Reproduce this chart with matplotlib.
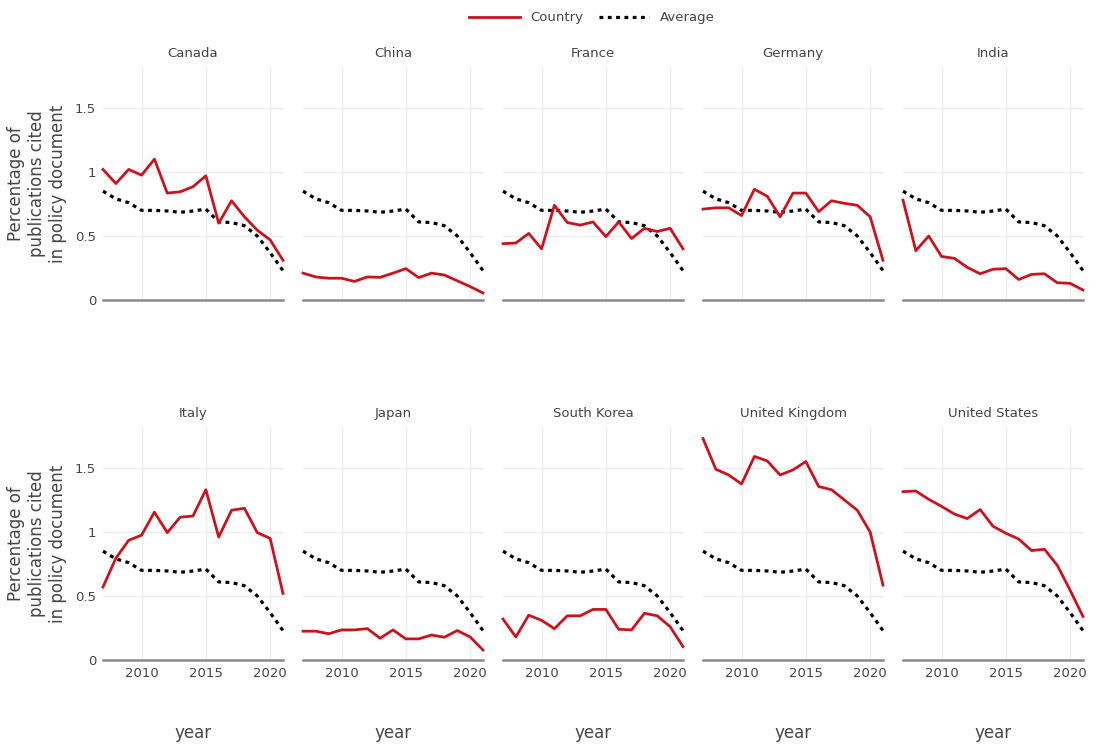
import matplotlib.pyplot as plt
from matplotlib.lines import Line2D
import numpy as np

years = np.arange(2007, 2022)

# share of publications cited in policy documents (%)
average = [0.85, 0.79, 0.76, 0.70, 0.70, 0.695, 0.685, 0.695, 0.71, 0.61, 0.605, 0.58, 0.50, 0.37, 0.23]

canada = [1.02, 0.91, 1.02, 0.975, 1.10, 0.835, 0.845, 0.885, 0.97, 0.60, 0.775, 0.65, 0.545, 0.47, 0.31]
china = [0.21, 0.18, 0.17, 0.17, 0.145, 0.18, 0.177, 0.21, 0.245, 0.175, 0.21, 0.195, 0.15, 0.105, 0.055]
france = [0.44, 0.445, 0.52, 0.40, 0.74, 0.605, 0.585, 0.61, 0.495, 0.61, 0.48, 0.56, 0.535, 0.56, 0.40]
germany = [0.71, 0.72, 0.72, 0.66, 0.865, 0.81, 0.65, 0.835, 0.835, 0.69, 0.775, 0.755, 0.74, 0.65, 0.31]
india = [0.78, 0.385, 0.50, 0.34, 0.325, 0.255, 0.205, 0.24, 0.245, 0.16, 0.20, 0.205, 0.135, 0.13, 0.078]
italy = [0.57, 0.795, 0.935, 0.975, 1.155, 0.995, 1.115, 1.125, 1.33, 0.96, 1.17, 1.185, 0.995, 0.95, 0.52]
japan = [0.225, 0.225, 0.205, 0.235, 0.235, 0.245, 0.17, 0.235, 0.165, 0.165, 0.195, 0.178, 0.23, 0.18, 0.078]
south_korea = [0.32, 0.18, 0.35, 0.31, 0.245, 0.345, 0.345, 0.395, 0.395, 0.24, 0.235, 0.365, 0.345, 0.26, 0.105]
uk = [1.73, 1.49, 1.445, 1.375, 1.59, 1.555, 1.445, 1.485, 1.55, 1.355, 1.33, 1.25, 1.17, 1.0, 0.585]
us = [1.315, 1.32, 1.255, 1.20, 1.14, 1.105, 1.175, 1.045, 0.99, 0.945, 0.855, 0.865, 0.74, 0.545, 0.34]

countries = ['Canada', 'China', 'France', 'Germany', 'India',
             'Italy', 'Japan', 'South Korea', 'United Kingdom', 'United States']
values = [canada, china, france, germany, india, italy, japan, south_korea, uk, us]

red = '#c8141e'
grey = '#444444'
dots = (0, (1.2, 1.4))
W, H = 1096, 753

fig = plt.figure(figsize=(W / 100, H / 100), dpi=100)

ylabel = 'Percentage of\npublications cited\nin policy document'

for i, (name, vals) in enumerate(zip(countries, values)):
    row, col = i // 5, i % 5
    left = 103 + col * 200
    top = 67 + row * 360
    ax = fig.add_axes([left / W, 1 - (top + 233) / H, 180 / W, 233 / H])
    ax.plot(years, vals, color=red, lw=2.0, zorder=4, clip_on=False)
    ax.plot(years, average, color='black', lw=2.3, linestyle=dots, zorder=3, clip_on=False)
    ax.axhline(0, color='#8a8a8a', lw=1.8, zorder=2, clip_on=False)
    ax.set_xlim(2007, 2021)
    ax.set_ylim(0, 1.82)
    ax.set_xticks([2010, 2015, 2020])
    ax.set_yticks([0, 0.5, 1, 1.5])
    ax.grid(True, color='#ececec', lw=0.9)
    ax.set_axisbelow(True)
    for s in ax.spines.values():
        s.set_visible(False)
    ax.tick_params(length=0, labelsize=9.5, labelcolor=grey, pad=5)
    if col == 0:
        ax.set_yticklabels(['0', '0.5', '1', '1.5'])
        ax.set_ylabel(ylabel, fontsize=12, color=grey, labelpad=6, linespacing=1.2)
    else:
        ax.set_yticklabels([])
    if row == 1:
        ax.set_xticklabels(['2010', '2015', '2020'])
        ax.set_xlabel('year', fontsize=12, color=grey, labelpad=32)
    else:
        ax.set_xticklabels([])
    ax.set_title(name, fontsize=9.5, color=grey, pad=7)

handles = [Line2D([], [], color=red, lw=2.0),
           Line2D([], [], color='black', lw=2.3, linestyle=dots)]
fig.legend(handles, ['Country', 'Average'], loc='center', bbox_to_anchor=(592 / W, 1 - 18 / H),
           ncol=2, frameon=False, fontsize=9.5, handlelength=3.8, columnspacing=1.2,
           labelcolor=grey)

fig.savefig('out.png', dpi=100, facecolor='white')
